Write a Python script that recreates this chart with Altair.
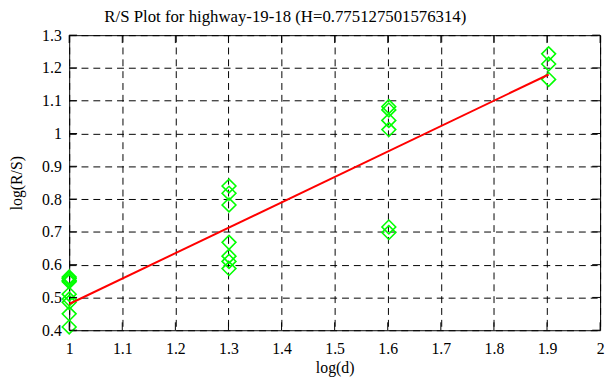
import altair as alt
import pandas as pd

# data
log_d = [1.0] * 9 + [1.30103] * 7 + [1.60206] * 6 + [1.90309] * 3
log_rs = [0.562, 0.558, 0.552, 0.548, 0.51, 0.495, 0.485, 0.45, 0.41,
          0.84, 0.818, 0.782, 0.668, 0.626, 0.61, 0.588,
          1.082, 1.072, 1.04, 1.012, 0.715, 0.698,
          1.243, 1.212, 1.165]
fit_x = [1.0, 1.90309]
fit_y = [0.48, 1.18]
x_ticks = [1, 1.1, 1.2, 1.3, 1.4, 1.5, 1.6, 1.7, 1.8, 1.9, 2]
y_ticks = [0.4, 0.5, 0.6, 0.7, 0.8, 0.9, 1, 1.1, 1.2, 1.3]

pts = pd.DataFrame({"x": log_d, "y": log_rs})
fit = pd.DataFrame({"x": fit_x, "y": fit_y})
xt = pd.DataFrame({"x": x_ticks})
yt = pd.DataFrame({"y": y_ticks})

W, H = 538, 299
FONT = "Liberation Serif, Times New Roman, serif"

xscale = alt.Scale(domain=[1, 2], nice=False, zero=False)
yscale = alt.Scale(domain=[0.4, 1.3], nice=False, zero=False)

common = dict(grid=True, gridDash=[7, 5], gridColor="black", gridOpacity=1,
              ticks=False, domain=False, labelFlush=False, labelOverlap=False,
              format=".1~f", labelFont=FONT, labelFontSize=16, labelColor="black",
              titleFont=FONT, titleFontSize=16, titleColor="black",
              titleFontWeight="normal")
xaxis = alt.Axis(values=x_ticks, title="log(d)", labelPadding=11, titlePadding=3, **common)
yaxis = alt.Axis(values=y_ticks, title="log(R/S)", labelPadding=8, titlePadding=17, **common)


def X():
    return alt.X("x:Q", scale=xscale, axis=xaxis)


def Y():
    return alt.Y("y:Q", scale=yscale, axis=yaxis)


points = alt.Chart(pts).mark_point(shape="diamond", size=196, filled=False,
                                   color="#00ff00", strokeWidth=1.6, opacity=1).encode(
    x=X(), y=Y())

line = alt.Chart(fit).mark_line(color="#ff0000", strokeWidth=2).encode(x=X(), y=Y())

tick_style = dict(color="black", strokeWidth=1)
xt_bottom = alt.Chart(xt).mark_rule(**tick_style).encode(
    x=X(), y=alt.value(H), y2=alt.value(H - 8))
xt_top = alt.Chart(xt).mark_rule(**tick_style).encode(
    x=X(), y=alt.value(0), y2=alt.value(8))
yt_left = alt.Chart(yt).mark_rule(**tick_style).encode(
    y=Y(), x=alt.value(0), x2=alt.value(8))
yt_right = alt.Chart(yt).mark_rule(**tick_style).encode(
    y=Y(), x=alt.value(W), x2=alt.value(W - 8))

chart = alt.layer(points, line, xt_bottom, xt_top, yt_left, yt_right).properties(
    width=W, height=H,
    background="white",
    title=alt.TitleParams("R/S Plot for highway-19-18 (H=0.775127501576314)",
                          font=FONT, fontSize=17, fontWeight="normal",
                          color="black", anchor="middle", dx=-50, offset=1),
    padding={"left": 62, "top": 25, "right": 8, "bottom": 55},
    autosize=alt.AutoSizeParams(type="none"),
).configure_view(stroke="black", strokeWidth=1).configure_axis(
    labelFont=FONT, labelFontSize=16, labelColor="black",
    titleFont=FONT, titleFontSize=16, titleColor="black", titleFontWeight="normal",
)

chart.save("out.html", embed_options={"renderer": "svg", "actions": False})
